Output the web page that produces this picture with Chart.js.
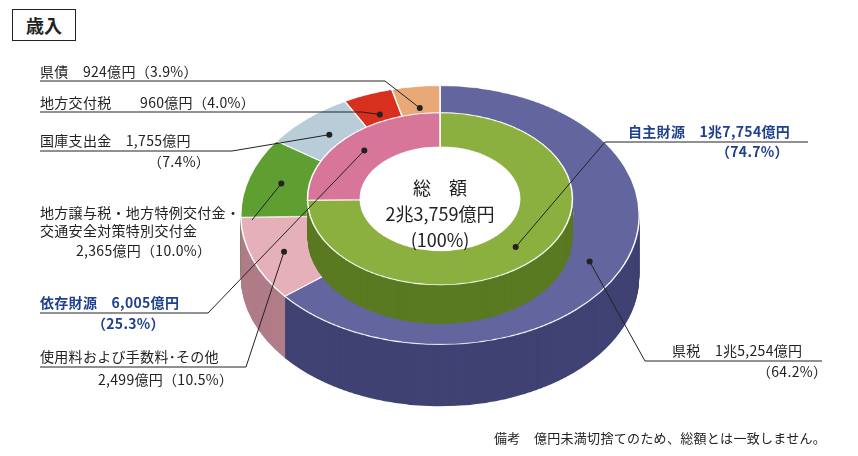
<!DOCTYPE html>
<html><head><meta charset="utf-8">
<script src="https://cdn.jsdelivr.net/npm/chart.js@4/dist/chart.umd.min.js"></script>
<style>
body{margin:0;background:#fff;font-family:"Noto Sans CJK JP",sans-serif;color:#222;}
#wrap{position:relative;width:858px;height:456px;overflow:hidden;}
#pie{position:absolute;left:240px;top:85px;width:400px;height:500px;transform:scaleY(0.65);transform-origin:top left;}
#lines{position:absolute;left:0;top:0;}
.t{position:absolute;font-size:14px;white-space:nowrap;line-height:16px;letter-spacing:0.3px;}
.b{font-weight:bold;color:#1f3f8f;}
.c{position:absolute;left:340px;width:200px;text-align:center;font-size:18px;line-height:26px;}
#title{position:absolute;left:12px;top:9px;width:62px;height:30px;border:1.5px solid #222;font-weight:bold;font-size:18px;text-align:center;line-height:30px;}
</style></head><body>
<div id="wrap">
<div id="title">歳入</div>
<div id="pie"><canvas id="c"></canvas></div>
<canvas id="lines" width="858" height="456"></canvas>
<div class="t" style="left:40px;top:63px">県債　924億円（3.9%）</div>
<div class="t" style="left:40px;top:94px">地方交付税　　960億円（4.0%）</div>
<div class="t" style="left:40px;top:132px">国庫支出金　1,755億円</div>
<div class="t" style="left:148px;top:153px">（7.4%）</div>
<div class="t" style="left:40px;top:204px">地方譲与税・地方特例交付金・</div>
<div class="t" style="left:40px;top:222px">交通安全対策特別交付金</div>
<div class="t" style="left:76px;top:242px">2,365億円（10.0%）</div>
<div class="t b" style="left:40px;top:294px">依存財源　6,005億円</div>
<div class="t b" style="left:92px;top:315px">（25.3%）</div>
<div class="t" style="left:40px;top:348px">使用料および手数料･その他</div>
<div class="t" style="left:98px;top:371px">2,499億円（10.5%）</div>
<div class="t b" style="left:628px;top:123px">自主財源　1兆7,754億円</div>
<div class="t b" style="left:716px;top:143px">（74.7%）</div>
<div class="t" style="left:672px;top:342px">県税　1兆5,254億円</div>
<div class="t" style="left:757px;top:363px">（64.2%）</div>
<div class="c" style="top:174px">総　額<br>2兆3,759億円<br>(100%)</div>
<div class="t" style="left:494px;top:430px;font-size:13px">備考　億円未満切捨てのため、総額とは一致しません。</div>
</div>
<script>
// outer ring (clockwise from top)
const outerLabels = ['県税', '使用料および手数料・その他', '地方譲与税・地方特例交付金・交通安全対策特別交付金', '国庫支出金', '地方交付税', '県債'];
const outerValues = [15254, 2499, 2365, 1755, 960, 924];
const outerColors = ['#63669e', '#e6b0bb', '#5f9e30', '#b9cdd9', '#d8301e', '#e8a878'];
const outerSide = ['#3f4272', '#b07c88', '#3e6e1e', '#8a9caa', '#98200f', '#b07848'];
// inner ring
const innerLabels = ['自主財源', '依存財源'];
const innerValues = [17754, 6005];
const innerColors = ['#8bb040', '#d8769a'];
const innerSide = ['#5a7a22', '#a04e6c'];

const SY = 0.65, LEFT = 240, TOP = 85;
const OUTER_DEPTH = 95, INNER_DEPTH = 60, INNER_LIFT = 25;

function drawRing(ctx, meta, colors, dy) {
  ctx.save();
  ctx.translate(0, dy);
  meta.data.forEach((arc, i) => {
    const o = arc.options, bg = o.backgroundColor, bw = o.borderWidth;
    o.backgroundColor = colors[i];
    if (colors !== outerColors && colors !== innerColors) o.borderWidth = 0;
    arc.draw(ctx);
    o.backgroundColor = bg; o.borderWidth = bw;
  });
  ctx.restore();
}

const depth = {
  id: 'depth',
  beforeDatasetsDraw(chart) {
    const ctx = chart.ctx;
    const mo = chart.getDatasetMeta(0), mi = chart.getDatasetMeta(1);
    for (let d = OUTER_DEPTH; d > 0; d -= 1) drawRing(ctx, mo, outerSide, d);
    drawRing(ctx, mo, outerColors, 0);
    for (let d = INNER_DEPTH - INNER_LIFT; d > -INNER_LIFT; d -= 1) drawRing(ctx, mi, innerSide, d);
    drawRing(ctx, mi, innerColors, -INNER_LIFT);
    const a = mi.data[0];
    ctx.beginPath();
    ctx.fillStyle = '#fff';
    ctx.arc(a.x, a.y - INNER_LIFT, a.innerRadius, 0, Math.PI * 2);
    ctx.fill();
    return false;
  },
  afterDraw(chart) {
    const lc = document.getElementById('lines').getContext('2d');
    lc.clearRect(0, 0, 858, 456);
    lc.strokeStyle = '#222'; lc.lineWidth = 1;
    const pt = (ds, i, lift) => {
      const p = chart.getDatasetMeta(ds).data[i].tooltipPosition();
      return [LEFT + p.x, TOP + (p.y - lift) * SY];
    };
    // [dataset, index, path start points]
    const leaders = [
      [0, 5, [[40, 81], [385, 81]]],
      [0, 4, [[40, 112], [362, 112]]],
      [0, 3, [[40, 151], [232, 151]]],
      [0, 2, [[252, 220]]],
      [1, 1, [[40, 313], [208, 313]]],
      [0, 1, [[40, 367], [246, 367]]],
      [1, 0, [[808, 142], [605, 142]]],
      [0, 0, [[822, 361], [645, 361]]]
    ];
    leaders.forEach(([ds, i, path]) => {
      const end = pt(ds, i, ds === 1 ? INNER_LIFT : 0);
      lc.beginPath();
      lc.moveTo(path[0][0], path[0][1]);
      path.slice(1).forEach(p => lc.lineTo(p[0], p[1]));
      lc.lineTo(end[0], end[1]);
      lc.stroke();
      lc.beginPath(); lc.fillStyle = '#222';
      lc.arc(end[0], end[1], 3, 0, Math.PI * 2); lc.fill();
    });
  }
};

new Chart(document.getElementById('c'), {
  type: 'doughnut',
  data: {
    labels: outerLabels,
    datasets: [
      { data: outerValues, backgroundColor: outerColors, borderColor: '#fff', borderWidth: 1.5, weight: 67 },
      { data: innerValues, backgroundColor: innerColors, borderColor: '#fff', borderWidth: 1.5, weight: 53 }
    ]
  },
  options: {
    responsive: true, maintainAspectRatio: false, animation: false,
    cutout: '40%',
    layout: { padding: { bottom: 100 } },
    plugins: { legend: { display: false }, tooltip: { enabled: false } }
  },
  plugins: [depth]
});
</script>
</body></html>
